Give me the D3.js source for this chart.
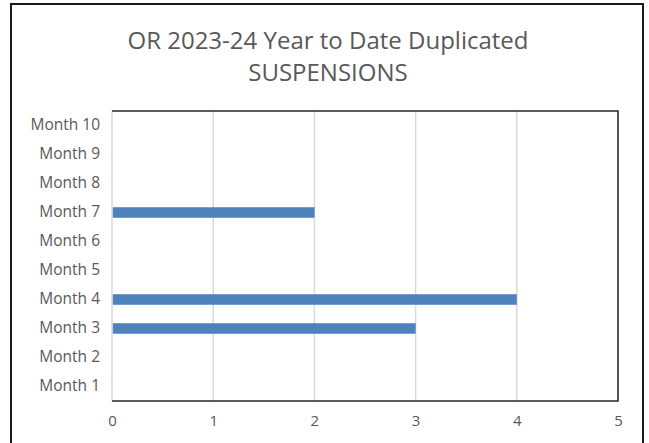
<!DOCTYPE html>
<html>
<head>
<meta charset="utf-8">
<script src="https://cdn.jsdelivr.net/npm/d3@7"></script>
<style>
  body { margin: 0; background: #fff; }
  text { font-family: "Open Sans", "Noto Sans", sans-serif; fill: #595959; }
</style>
</head>
<body>
<div id="chart"></div>
<script>
// chart data
const months = ["Month 1", "Month 2", "Month 3", "Month 4", "Month 5",
                "Month 6", "Month 7", "Month 8", "Month 9", "Month 10"];
const suspensions = [0, 0, 3, 4, 0, 0, 2, 0, 0, 0];
const xTicks = [0, 1, 2, 3, 4, 5];
const titleLines = ["OR 2023-24 Year to Date Duplicated", "SUSPENSIONS"];

const width = 649, height = 443;
const margin = {top: 111, right: 31, bottom: 42, left: 112};

const svg = d3.select("#chart").append("svg")
    .attr("width", width)
    .attr("height", height);

// outer chart frame
svg.append("rect")
    .attr("x", 11).attr("y", 4)
    .attr("width", 632).attr("height", 460)
    .attr("fill", "#fff")
    .attr("stroke", "#1a1a1a")
    .attr("stroke-width", 2);

// title
svg.append("text")
    .attr("x", 328).attr("y", 49)
    .attr("text-anchor", "middle")
    .style("font-size", "24px")
    .selectAll("tspan")
    .data(titleLines)
    .enter().append("tspan")
    .attr("x", 328)
    .attr("dy", (d, i) => i ? 32 : 0)
    .text(d => d);

const plotW = width - margin.left - margin.right;
const plotH = height - margin.top - margin.bottom;

const chart = svg.append("g")
    .attr("transform", `translate(${margin.left},${margin.top})`);

const x = d3.scaleLinear().domain([0, 5]).range([0, plotW]);
const y = d3.scaleBand().domain(months).range([plotH, 0])
    .paddingInner(0.64).paddingOuter(0.32);

// vertical gridlines
chart.append("g")
    .selectAll("line")
    .data(xTicks)
    .enter().append("line")
    .attr("x1", d => x(d)).attr("x2", d => x(d))
    .attr("y1", 0).attr("y2", plotH)
    .attr("stroke", "#d9d9d9")
    .attr("stroke-width", 1.5);

// bars
chart.append("g")
    .selectAll("rect")
    .data(months.map((m, i) => ({month: m, value: suspensions[i]})).filter(d => d.value > 0))
    .enter().append("rect")
    .attr("x", x(0) + 1)
    .attr("y", d => y(d.month))
    .attr("width", d => x(d.value) - x(0) - 1)
    .attr("height", y.bandwidth())
    .attr("fill", "#4f81bd")
    .attr("stroke", "#6f98c9")
    .attr("stroke-width", 0.5);

// plot area border (top, right, bottom in dark)
chart.append("path")
    .attr("d", `M0,0H${plotW}V${plotH}H0`)
    .attr("fill", "none")
    .attr("stroke", "#262626")
    .attr("stroke-width", 1.5);

// x axis labels
const xAxis = chart.append("g")
    .attr("transform", `translate(0,${plotH})`)
    .call(d3.axisBottom(x).tickValues(xTicks).tickFormat(d3.format("d")).tickSize(0).tickPadding(14));
xAxis.select(".domain").remove();
xAxis.selectAll("text")
    .style("font-size", "15px")
    .style("font-family", "\"Open Sans\", sans-serif")
    .attr("fill", "#595959");

// y axis labels
const yAxis = chart.append("g")
    .call(d3.axisLeft(y).tickSize(0).tickPadding(12));
yAxis.select(".domain").remove();
yAxis.selectAll("text")
    .style("font-size", "15.5px")
    .style("font-family", "\"Open Sans\", sans-serif")
    .attr("fill", "#595959");
</script>
</body>
</html>
